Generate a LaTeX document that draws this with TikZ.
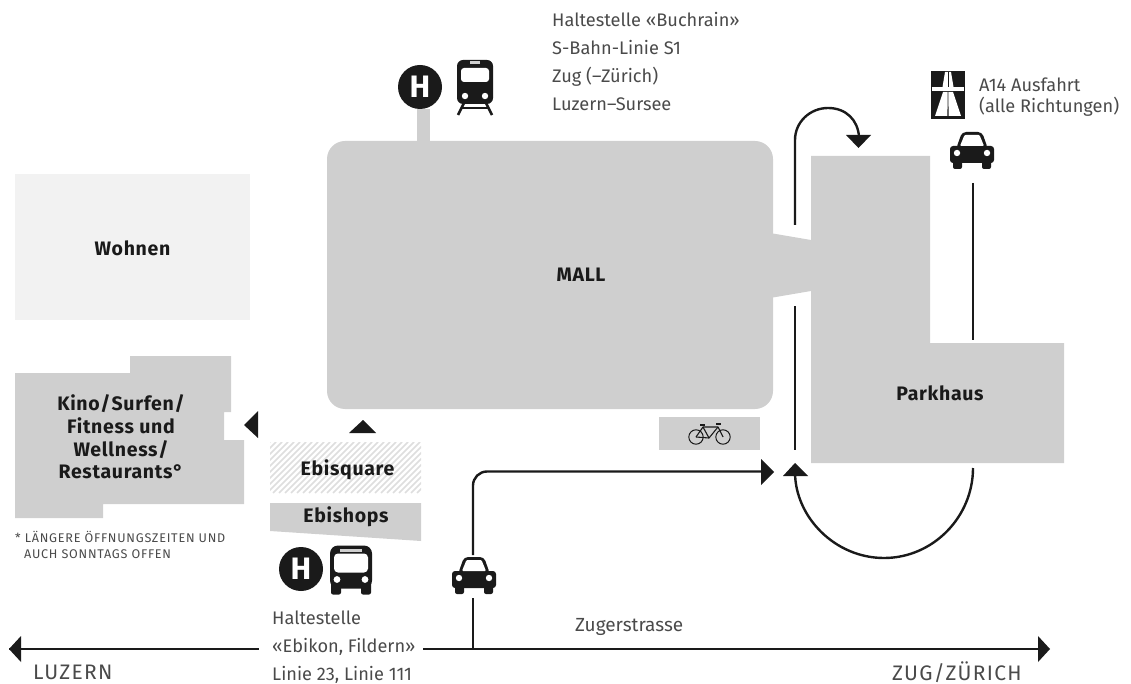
\documentclass[tikz,border=0pt]{standalone}
\usepackage{fontspec}
\setmainfont{Fira Sans}
\newfontfamily\boldwide[LetterSpace=3.5,BoldFont={Fira Sans Bold}]{Fira Sans}
\newfontfamily\capswide[LetterSpace=6]{Fira Sans}
\definecolor{blockgrey}{HTML}{CFCFCF}
\definecolor{palegrey}{HTML}{F2F2F2}
\definecolor{hatchgrey}{HTML}{DEDEDE}
\definecolor{inkc}{HTML}{1A1A1A}
\definecolor{textc}{HTML}{4A4A4A}
\tikzset{
  block/.style={fill=blockgrey,draw=none},
  boldlabel/.style={font=\boldwide\fontsize{19.5}{22.7}\selectfont\bfseries,text=inkc,align=center,inner sep=0pt},
  thinlabel/.style={font=\fontsize{18.2}{28}\selectfont,text=textc,align=left,anchor=west,inner sep=0pt},
  road/.style={draw=inkc,line width=2.4pt},
  tip/.style={fill=inkc,draw=none},
  pics/carsym/.style={code={
    \fill[inkc,rounded corners=3pt] (-22,-4) rectangle (22,13);
    \fill[inkc,rounded corners=4pt] (-16,-1) -- (-10,-18) -- (10,-18) -- (16,-1) -- cycle;
    \fill[white,rounded corners=1pt] (-12,-4) -- (-7.5,-15) -- (7.5,-15) -- (12,-4) -- cycle;
    \fill[inkc,rounded corners=2pt] (-19,9) rectangle (-10,19);
    \fill[inkc,rounded corners=2pt] (10,9) rectangle (19,19);
    \fill[white] (-15,3) circle (3.2);
    \fill[white] (15,3) circle (3.2);
  }},
  pics/haltsym/.style={code={
    \fill[inkc] (0,0) circle (22);
    \node[font=\fontsize{31}{31}\selectfont\bfseries,text=white,inner sep=0pt] (-h) at (0,0) {H};
  }}
}
\begin{document}
\begin{tikzpicture}[x=1pt,y=-1pt]
\useasboundingbox (0,0) rectangle (1131,684);
% blocks
\fill[palegrey] (15,174) rectangle (250,320);
\fill[block] (417,109) rectangle (430,145);
\fill[block,rounded corners=18pt] (327,141) rectangle (773,409);
\fill[block] (770,233) -- (811,240) -- (811,291) -- (770,298) -- cycle;
\fill[block] (811,156) -- (930,156) -- (930,343) -- (1064,343) -- (1064,463) -- (811,463) -- cycle;
\fill[block] (15,373) -- (130,373) -- (130,356) -- (231,356) -- (231,412) -- (224,412) -- (224,440) -- (244,440) -- (244,504) -- (103,504) -- (103,518) -- (15,518) -- cycle;
\begin{scope}
  \clip (270,442) rectangle (421,493);
  \fill[white] (270,442) rectangle (421,493);
  \foreach \k in {0,6,...,210} {
    \draw[hatchgrey,line width=1.7pt] (270+\k-51,493) -- (270+\k,442);
  }
\end{scope}
\fill[block] (270,503) -- (421,503) -- (421,541) -- (270,531) -- cycle;
\fill[block] (659,417) rectangle (760,450);
% labels
\node[boldlabel] (wohnen) at (132.5,248) {Wohnen};
\node[boldlabel] (mall) at (581,275) {MALL};
\node[boldlabel] (parkhaus) at (940,393) {Parkhaus};
\node[boldlabel] (kino) at (121,437) {Kino/\kern1pt Surfen/\\Fitness und\\Wellness/\\Restaurants°};
\node[boldlabel] (ebisquare) at (347.5,470) {Ebisquare};
\node[boldlabel] (ebishops) at (346,517) {Ebishops};
\node[font=\capswide\fontsize{12.6}{16}\selectfont,text=textc,align=left,anchor=north west,inner sep=0pt] (note) at (15,531) {* LÄNGERE ÖFFNUNGSZEITEN UND\\\hspace*{9pt}AUCH SONNTAGS OFFEN};
\node[thinlabel,anchor=north west] (buchrain) at (552,12) {Haltestelle «Buchrain»\\S-Bahn-Linie S1\\Zug (–Zürich)\\Luzern–Sursee};
\node[thinlabel,anchor=north west] (fildern) at (272,611) {Haltestelle\\«Ebikon, Fildern»\\Linie 23, Linie 111};
\node[thinlabel,anchor=north west,font=\fontsize{18.2}{21}\selectfont] (a14) at (979,78) {A14 Ausfahrt\\(alle Richtungen)};
\node[thinlabel,font=\fontsize{19}{19}\selectfont] (zuger) at (575,627) {Zugerstrasse};
\node[thinlabel,font=\addfontfeature{LetterSpace=6}\fontsize{21}{21}\selectfont] (luzern) at (33,672) {LUZERN};
\node[thinlabel,font=\addfontfeature{LetterSpace=6}\fontsize{21}{21}\selectfont] (zug) at (892,672) {ZUG/ZÜRICH};
% symbols
\pic (halttrain) at (420,87) {haltsym};
\pic (haltbus) at (301,569) {haltsym};
\pic (car1) at (474,575) {carsym};
\pic (car2) at (972,150) {carsym};
% train
\begin{scope}[shift={(475,87)}]
  \draw[inkc,line width=2.6pt] (-10,14) -- (-17,28);
  \draw[inkc,line width=2.6pt] (10,14) -- (17,28);
  \draw[inkc,line width=2pt] (-13,21) -- (13,21);
  \fill[inkc,rounded corners=6pt] (-18,-27) rectangle (18,17);
  \fill[white,rounded corners=3pt] (-14,-19) rectangle (14,-5);
  \fill[blockgrey] (-5,-25.5) rectangle (5,-22.5);
  \fill[white] (-10,9) circle (3.2);
  \fill[white] (10,9) circle (3.2);
\end{scope}
% bus
\begin{scope}[shift={(351,569.5)}]
  \fill[inkc,rounded corners=8pt] (-21,-24) rectangle (21,19);
  \fill[white,rounded corners=4pt] (-17,-16) rectangle (17,3);
  \fill[blockgrey] (-11,-21) rectangle (11,-18);
  \fill[inkc,rounded corners=2pt] (-20,10) rectangle (-10,25);
  \fill[inkc,rounded corners=2pt] (10,10) rectangle (20,25);
  \fill[white] (-14,10) circle (3.4);
  \fill[white] (14,10) circle (3.4);
\end{scope}
% motorway sign
\begin{scope}
  \fill[inkc] (931,71) rectangle (965,119);
  \fill[white] (935,116) -- (943,92) -- (953,92) -- (961,116) -- cycle;
  \fill[inkc] (947.4,116) -- (947.7,92) -- (948.3,92) -- (948.6,116) -- cycle;
  \fill[white] (932,87) rectangle (964,91);
  \fill[white] (942.5,87) -- (945,72) -- (951,72) -- (953.5,87) -- cycle;
  \fill[inkc] (947.6,87) rectangle (948.4,72);
\end{scope}
% bicycle
\begin{scope}[shift={(709,434)}]
  \draw[inkc,line width=1pt] (-13,3) circle (7.2);
  \draw[inkc,line width=1pt] (14,3) circle (7.2);
  \draw[inkc,line width=1.1pt,line join=round] (-13,3) -- (-6,-7) -- (9,-7) -- (14,3);
  \draw[inkc,line width=1.1pt,line join=round] (-6,-7) -- (0,4) -- (9,-7);
  \draw[inkc,line width=1.1pt] (-13,3) -- (0,4);
  \draw[inkc,line width=1.4pt] (-9,-9) -- (-4,-9);
  \draw[inkc,line width=1.4pt] (7,-10) -- (12,-10);
\end{scope}
% connector ends
\coordinate (roadL) at (9,649);
\coordinate (roadLgap) at (259,649);
\coordinate (roadRgap) at (423,649);
\coordinate (roadR) at (1040,649);
\coordinate (feedB) at (473,649);
\coordinate (feedT) at (473,598);
\coordinate (feedU) at (473,555);
\coordinate (feedE) at (764,471.5);
\coordinate (upA) at (795,225);
\coordinate (upB) at (795,306);
\coordinate (upC) at (795,450);
\coordinate (rightA) at (973,183);
\coordinate (rightB) at (973,340);
\coordinate (rightC) at (973,468);
% connectors
\draw[road] (roadL) -- (roadLgap);
\fill[tip] (9,649) -- (21,636) -- (21,662) -- cycle;
\draw[road] (roadRgap) -- (roadR);
\fill[tip] (1050,649) -- (1038,636) -- (1038,662) -- cycle;
\draw[road] (feedB) -- (feedT);
\draw[road,rounded corners=14pt] (feedU) |- (feedE);
\fill[tip] (774,472) -- (761,459) -- (761,485) -- cycle;
\draw[road] (upB) -- (upC);
\draw[road] (rightA) -- (rightB);
\draw[road] (upA) -- (795,140) .. controls (795,122) and (810,108) .. (828,108) .. controls (846,108) and (858,120) .. (859,137);
\fill[tip] (858.5,148) -- (846,135) -- (871,135) -- cycle;
\draw[road] (rightC) .. controls (973,517) and (933,558) .. (884,558) .. controls (835,558) and (795,517) .. (795,472);
\fill[tip] (795,463) -- (783,476) -- (808,476) -- cycle;
% building entrance arrows
\fill[tip] (244,425) -- (258,411) -- (258,438) -- cycle;
\fill[tip] (363,420) -- (349,433) -- (376,433) -- cycle;
\end{tikzpicture}
\end{document}
